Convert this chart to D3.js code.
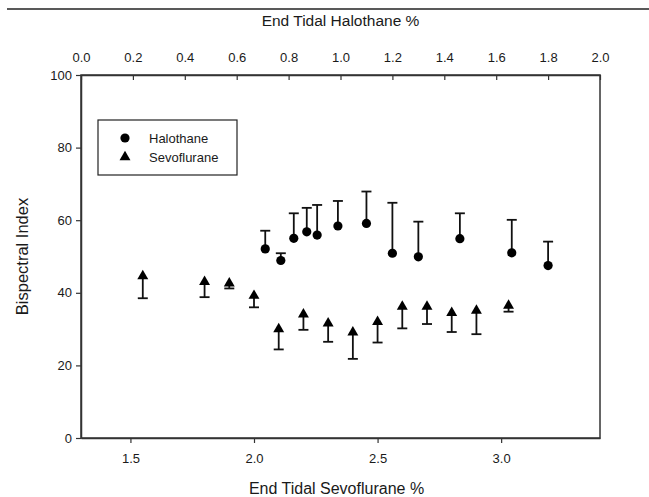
<!DOCTYPE html>
<html><head><meta charset="utf-8">
<script src="https://cdn.jsdelivr.net/npm/d3@7"></script>
<style>body{margin:0;background:#fff}svg{display:block}text{font-family:"Liberation Sans",Arial,sans-serif;fill:#1a1a1a}</style>
</head><body>
<script>
// Halothane (top axis)
const haloX = [0.71, 0.77, 0.82, 0.87, 0.91, 0.99, 1.10, 1.20, 1.30, 1.46, 1.66, 1.80];
const haloY = [52.1, 48.9, 55.0, 56.8, 55.9, 58.4, 59.1, 50.9, 49.9, 54.9, 51.0, 47.5];
const haloSD = [5.0, 2.0, 6.9, 6.6, 8.3, 6.9, 8.8, 13.9, 9.7, 7.0, 9.1, 6.6];
// Sevoflurane (bottom axis)
const sevoX = [1.55, 1.80, 1.90, 2.00, 2.10, 2.20, 2.30, 2.40, 2.50, 2.60, 2.70, 2.80, 2.90, 3.03];
const sevoY = [44.6, 43.0, 42.6, 39.2, 30.0, 34.1, 31.6, 29.1, 32.0, 36.2, 36.2, 34.5, 35.1, 36.5];
const sevoSD = [6.1, 4.2, 1.4, 3.2, 5.6, 4.3, 5.1, 7.3, 5.7, 6.0, 4.8, 5.3, 6.5, 1.7];
const topTicks = [0.0, 0.2, 0.4, 0.6, 0.8, 1.0, 1.2, 1.4, 1.6, 1.8, 2.0];
const bottomTicks = [1.5, 2.0, 2.5, 3.0];
const yTicks = [0, 20, 40, 60, 80, 100];
const legendLabels = ["Halothane", "Sevoflurane"];

const W = 649, H = 497;
const L = 81, R = 600, T = 75, B = 438;
const svg = d3.select("body").append("svg").attr("width", W).attr("height", H);

const xTop = d3.scaleLinear().domain([0, 2]).range([L, R]);
const xBot = d3.scaleLinear().domain([1.3, 3.4]).range([L, R]);
const y = d3.scaleLinear().domain([0, 100]).range([B, T]);

// top rule
svg.append("line").attr("x1", 7).attr("x2", W).attr("y1", 9).attr("y2", 9)
  .attr("stroke", "#222").attr("stroke-width", 1.5);

// frame
svg.append("rect").attr("x", L).attr("y", T).attr("width", R - L).attr("height", B - T)
  .attr("fill", "none").attr("stroke", "#333").attr("stroke-width", 1.5);

const fmt1 = d3.format(".1f");
// top axis (ticks pointing inward)
const gTop = svg.append("g").attr("transform", `translate(0,${T})`)
  .call(d3.axisTop(xTop).tickValues(topTicks).tickFormat(fmt1).tickSizeInner(-5).tickSizeOuter(0).tickPadding(13));
// bottom axis
const gBot = svg.append("g").attr("transform", `translate(0,${B})`)
  .call(d3.axisBottom(xBot).tickValues(bottomTicks).tickFormat(fmt1).tickSizeInner(5).tickSizeOuter(0).tickPadding(11));
// left axis
const gLeft = svg.append("g").attr("transform", `translate(${L},0)`)
  .call(d3.axisLeft(y).tickValues(yTicks).tickSizeInner(5).tickSizeOuter(0).tickPadding(4));
[gTop, gBot, gLeft].forEach(g => {
  g.select(".domain").attr("stroke", "#333").attr("stroke-width", 1.5);
  g.selectAll(".tick line").attr("stroke", "#333").attr("stroke-width", 1.2);
  g.selectAll(".tick text").attr("font-size", 13).attr("font-family", "Liberation Sans, Arial, sans-serif").attr("fill", "#1a1a1a");
});

// axis titles
svg.append("text").attr("x", (L + R) / 2).attr("y", 26).attr("text-anchor", "middle")
  .attr("font-size", 15.5).text("End Tidal Halothane %");
svg.append("text").attr("x", (L + R) / 2 - 4).attr("y", 494).attr("text-anchor", "middle")
  .attr("font-size", 16).text("End Tidal Sevoflurane %");
svg.append("text").attr("transform", `translate(28,${(T + B) / 2}) rotate(-90)`).attr("text-anchor", "middle")
  .attr("font-size", 16.5).text("Bispectral Index");

const cap = 5;
// halothane error bars (upward)
const halo = haloX.map((x, i) => ({x, y: haloY[i], sd: haloSD[i]}));
const gH = svg.append("g");
gH.selectAll("line.v").data(halo).join("line").attr("class", "v")
  .attr("x1", d => xTop(d.x)).attr("x2", d => xTop(d.x))
  .attr("y1", d => y(d.y)).attr("y2", d => y(d.y + d.sd))
  .attr("stroke", "#111").attr("stroke-width", 1.8);
gH.selectAll("line.c").data(halo).join("line").attr("class", "c")
  .attr("x1", d => xTop(d.x) - cap).attr("x2", d => xTop(d.x) + cap)
  .attr("y1", d => y(d.y + d.sd)).attr("y2", d => y(d.y + d.sd))
  .attr("stroke", "#111").attr("stroke-width", 1.8);
gH.selectAll("circle").data(halo).join("circle")
  .attr("cx", d => xTop(d.x)).attr("cy", d => y(d.y)).attr("r", 4.6).attr("fill", "#000");

// sevoflurane error bars (downward)
const sevo = sevoX.map((x, i) => ({x, y: sevoY[i], sd: sevoSD[i]}));
const gS = svg.append("g");
gS.selectAll("line.v").data(sevo).join("line").attr("class", "v")
  .attr("x1", d => xBot(d.x)).attr("x2", d => xBot(d.x))
  .attr("y1", d => y(d.y)).attr("y2", d => y(d.y - d.sd))
  .attr("stroke", "#111").attr("stroke-width", 1.8);
gS.selectAll("line.c").data(sevo).join("line").attr("class", "c")
  .attr("x1", d => xBot(d.x) - cap).attr("x2", d => xBot(d.x) + cap)
  .attr("y1", d => y(d.y - d.sd)).attr("y2", d => y(d.y - d.sd))
  .attr("stroke", "#111").attr("stroke-width", 1.8);
const tri = d3.symbol().type(d3.symbolTriangle).size(52);
gS.selectAll("path").data(sevo).join("path")
  .attr("transform", d => `translate(${xBot(d.x)},${y(d.y)})`).attr("d", tri).attr("fill", "#000");

// legend
const lg = svg.append("g");
lg.append("rect").attr("x", 98).attr("y", 120).attr("width", 139).attr("height", 55)
  .attr("fill", "#fff").attr("stroke", "#222").attr("stroke-width", 1.2);
lg.append("circle").attr("cx", 125).attr("cy", 138).attr("r", 4.6).attr("fill", "#000");
lg.append("path").attr("transform", "translate(125,157)").attr("d", tri).attr("fill", "#000");
legendLabels.forEach((t, i) => {
  lg.append("text").attr("x", 149).attr("y", 142.5 + i * 19).attr("font-size", 13).text(t);
});
</script>
</body></html>
